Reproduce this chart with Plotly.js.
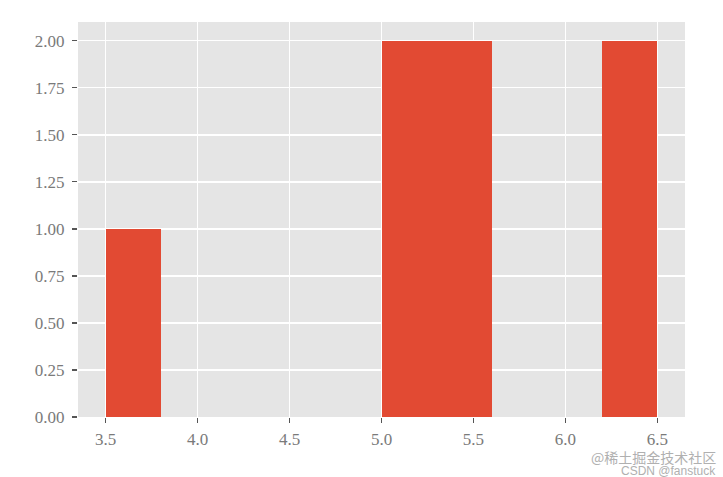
<!DOCTYPE html>
<html>
<head>
<meta charset="utf-8">
<script src="https://cdn.plot.ly/plotly-3.0.1.min.js"></script>
<style>html,body{margin:0;padding:0;background:#fff;}#chart{width:723px;height:477px;}</style>
</head>
<body>
<div id="chart"></div>
<script>
const binEdges = [3.5, 3.8, 4.1, 4.4, 4.7, 5.0, 5.3, 5.6, 5.9, 6.2, 6.5];
const counts = [1, 0, 0, 0, 0, 2, 2, 0, 0, 2];
const xTicks = [3.5, 4.0, 4.5, 5.0, 5.5, 6.0, 6.5];
const yTicks = [0, 0.25, 0.5, 0.75, 1.0, 1.25, 1.5, 1.75, 2.0];

const centers = counts.map((c, i) => (binEdges[i] + binEdges[i + 1]) / 2);
const widths = counts.map((c, i) => binEdges[i + 1] - binEdges[i]);

const tickFont = {family: '"Liberation Serif", "DejaVu Serif", serif', size: 17, color: '#7a7a7a'};

Plotly.newPlot('chart', [{
  type: 'bar',
  x: centers,
  y: counts,
  width: widths,
  marker: {color: '#E24A33', line: {width: 0}},
  hoverinfo: 'x+y'
}], {
  width: 723, height: 477,
  margin: {l: 78, r: 38, t: 22, b: 60},
  paper_bgcolor: '#ffffff',
  plot_bgcolor: '#E5E5E5',
  showlegend: false,
  bargap: 0,
  xaxis: {
    range: [3.35, 6.65],
    tickvals: xTicks,
    ticktext: xTicks.map(v => v.toFixed(1)),
    showgrid: true, gridcolor: '#ffffff', gridwidth: 1.3,
    zeroline: false, showline: false,
    ticks: 'outside', ticklen: 5, tickwidth: 1.2, tickcolor: '#555',
    ticklabelstandoff: 2,
    tickfont: tickFont
  },
  yaxis: {
    range: [0, 2.1],
    tickvals: yTicks,
    ticktext: yTicks.map(v => v.toFixed(2)),
    showgrid: true, gridcolor: '#ffffff', gridwidth: 1.3,
    zeroline: false, showline: false,
    ticks: 'outside', ticklen: 5, tickwidth: 1.2, tickcolor: '#555',
    ticklabelstandoff: 4,
    tickfont: tickFont
  },
  annotations: [
    {text: '@稀土掘金技术社区', xref: 'paper', yref: 'paper', x: 1.054, y: -0.10, xanchor: 'right', yanchor: 'middle', showarrow: false,
     font: {family: '"Noto Sans CJK SC", sans-serif', size: 14, color: '#b0b0b0'}},
    {text: 'CSDN @fanstuck', xref: 'paper', yref: 'paper', x: 1.054, y: -0.137, xanchor: 'right', yanchor: 'middle', showarrow: false,
     font: {family: '"Liberation Sans", sans-serif', size: 12, color: '#b0b0b0'}}
  ]
}, {displayModeBar: false, staticPlot: true});
</script>
</body>
</html>
